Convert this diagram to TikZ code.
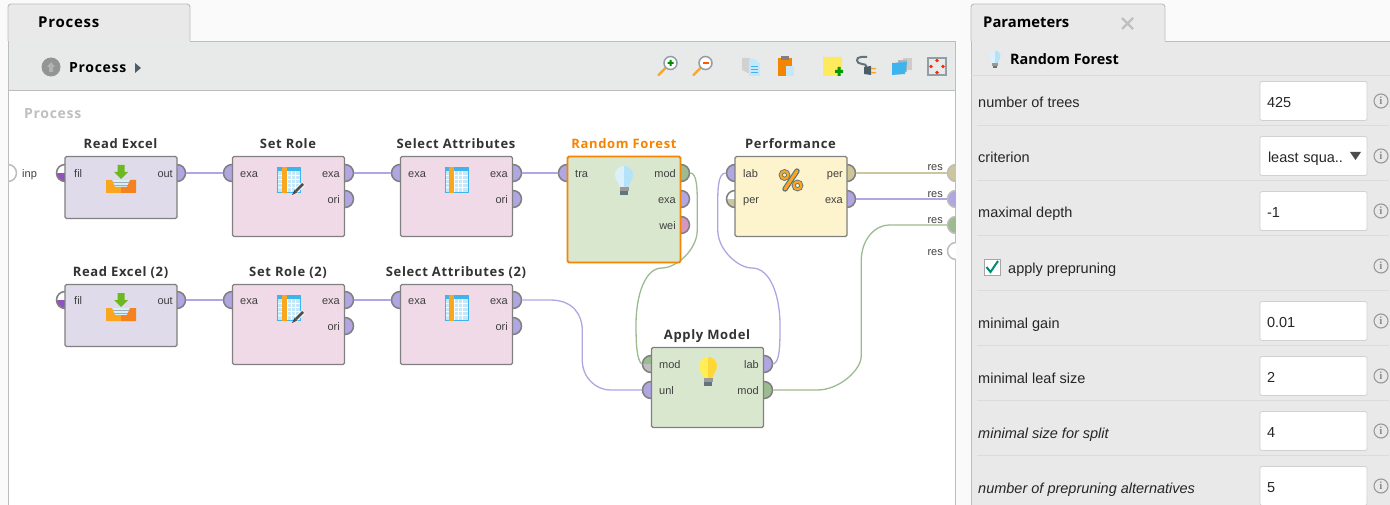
\documentclass[tikz,border=0pt]{standalone}
\usepackage{fontspec}
\setmainfont{Liberation Sans}
\newfontfamily\opfont{Open Sans}
\newfontfamily\opwide[LetterSpace=5]{Open Sans}
\newfontfamily\infofont{Liberation Serif}
\usetikzlibrary{calc}

\definecolor{pagebg}{HTML}{FAFAFA}
\definecolor{barbg}{HTML}{E8EAEA}
\definecolor{tabbg}{HTML}{E9E9E9}
\definecolor{edgegray}{HTML}{BDBDBD}
\definecolor{opedge}{HTML}{808080}
\definecolor{opread}{HTML}{DFDBEA}
\definecolor{oprole}{HTML}{F0DAE7}
\definecolor{opgreen}{HTML}{DAE7CF}
\definecolor{opyellow}{HTML}{FDF4CD}
\definecolor{pexa}{HTML}{B1A5E2}
\definecolor{pmod}{HTML}{9DBB90}
\definecolor{pper}{HTML}{CDC59B}
\definecolor{pwei}{HTML}{D596BF}
\definecolor{pfil}{HTML}{9450BC}
\definecolor{rforange}{HTML}{F58400}
\definecolor{iconblue}{HTML}{3DB4EE}
\definecolor{iconcell}{HTML}{C4E8FA}
\definecolor{iconorange}{HTML}{FBA61F}
\definecolor{icondeep}{HTML}{F58220}
\definecolor{icongreen}{HTML}{6DB81E}
\definecolor{iconslate}{HTML}{607480}
\definecolor{iconyellow}{HTML}{FFE95C}
\definecolor{bulbpale}{HTML}{DAF0FB}
\definecolor{bulbsky}{HTML}{B4E2F9}
\definecolor{bulblemon}{HTML}{FFEE58}
\definecolor{bulbgold}{HTML}{FFD835}

\tikzset{
	oplabel/.style={font=\opwide\bfseries\fontsize{13}{15}\selectfont,text=black!80,inner sep=0pt},
	opbox/.style={draw=opedge,line width=1.2pt,rounded corners=1.5pt,minimum width=112pt,inner sep=0pt},
	port/.style={circle,draw=opedge,line width=1.5pt,minimum size=17pt,inner sep=0pt},
	resport/.style={port,draw=edgegray},
	halfport/.style={port,path picture={\fill[#1] (path picture bounding box.west) rectangle (path picture bounding box.south east);}},
	portlabel/.style={font=\fontsize{11}{13}\selectfont,text=black!75,inner sep=0pt},
	wire/.style={line width=1.3pt,draw=#1},
	paramlabel/.style={font=\fontsize{14.5}{17}\selectfont,text=black!85,anchor=base west,inner sep=0pt},
	inputbox/.style={draw=black!18,fill=white,rounded corners=2pt,line width=.8pt,minimum height=39pt,text width=93pt,text height=14pt,text depth=.6pt,inner xsep=7pt,inner ysep=0pt,align=left,font=\fontsize{14.5}{17}\selectfont,text=black!85},
	infoicon/.style={circle,draw=black!40,line width=1.1pt,minimum size=14pt,inner sep=0pt,font=\infofont\bfseries\fontsize{11}{11}\selectfont,text=black!45},
	pics/bulb/.style 2 args={code={
		\fill[#1] (0,-14) .. controls (-5,-14) and (-9,-10) .. (-9,-5)
			.. controls (-9,0) and (-5,3) .. (-4.5,7) -- (0,7) -- cycle;
		\fill[#2] (0,-14) .. controls (5,-14) and (9,-10) .. (9,-5)
			.. controls (9,0) and (5,3) .. (4.5,7) -- (0,7) -- cycle;
		\fill[black!40] (-4.5,7) rectangle (4.5,11);
		\fill[iconslate] (-4,11) rectangle (4,15);
	}},
	pics/inbox/.style={code={
		\fill[icongreen] (-3.5,-22) -- (3.5,-22) -- (3.5,-15) -- (7,-15) -- (0,-8) -- (-7,-15) -- (-3.5,-15) -- cycle;
		\fill[iconcell!70!white] (-9,-7) rectangle (9,1);
		\foreach \ly in {-5,-2,1}
			\draw[iconslate!60,line width=.6pt] (-9,\ly) -- (9,\ly);
		\fill[iconorange] (-15,-7) -- (-9,-7) -- (-6,0) -- (0,0) -- (0,6) -- (-15,6) -- cycle;
		\fill[icondeep] (15,-7) -- (9,-7) -- (6,0) -- (0,0) -- (0,6) -- (15,6) -- cycle;
	}},
	pics/tablegrid/.style={code={
		\fill[iconblue] (-12,-13) rectangle (12,13);
		\fill[iconcell] (-11,-9) rectangle (11,12);
		\foreach \gx in {-2,2,6}
			\draw[white,line width=.9pt] (\gx,-9) -- (\gx,12);
		\foreach \gy in {-5,-1,3,7}
			\draw[white,line width=.9pt] (-11,\gy) -- (11,\gy);
		\fill[iconorange] (-7.5,-13) rectangle (-2.5,13);
	}},
	pics/pencil/.style={code={
		\draw[white,line width=4.4pt] (5,-5) -- (-3,3);
		\draw[black!70,line width=2.8pt] (5,-5) -- (-2,2);
		\fill[black!70] (-3.4,.6) -- (-.6,3.4) -- (-6,6) -- cycle;
	}},
	pics/zoomglass/.style={code={
		\draw[iconorange,line width=2.4pt,line cap=round] (-10,10) -- (-3,3);
		\draw[iconslate!70,fill=white,line width=1.5pt] (2,-2) circle (6.5);
	}}
}

\begin{document}
\begin{tikzpicture}[x=1pt,y=-1pt]
	\useasboundingbox (0,0) rectangle (1390,505);
	\fill[pagebg] (0,0) rectangle (1390,505);

	% process panel
	\draw[edgegray,fill=tabbg,line width=.9pt,rounded corners=3pt] (8,41) -- (8,4) -- (190,4) -- (190,41);
	\fill[white] (8,90) rectangle (955,505);
	\fill[barbg] (8,41) rectangle (955,90);
	\draw[edgegray,line width=.9pt] (190,41) -- (955,41);
	\draw[edgegray,line width=.9pt] (8,90) -- (955,90);
	\draw[edgegray,line width=.9pt] (8,41) -- (8,505);
	\draw[edgegray,line width=.9pt] (955,41) -- (955,505);
	\node[font=\opwide\bfseries\fontsize{15}{17}\selectfont,anchor=base west,inner sep=0pt] (processTab) at (38,28) {Process};
	\node[circle,fill=black!42,minimum size=19pt,inner sep=0pt] (upButton) at (51,67) {};
	\fill[black!30] (51,62) -- (55,67) -- (53,67) -- (53,72) -- (49,72) -- (49,67) -- (47,67) -- cycle;
	\node[font=\opwide\bfseries\fontsize{14}{17}\selectfont,anchor=base west,inner sep=0pt] (processBar) at (69,73) {Process};
	\fill[iconslate!80!black] (135,63) -- (141,68) -- (135,73) -- cycle;
	\node[font=\opwide\bfseries\fontsize{14}{16}\selectfont,text=black!25,anchor=base west,inner sep=0pt] (processName) at (24,119) {Process};

	% toolbar icons
	\pic at (668.5,65) {zoomglass};
	\fill[green!55!black] (667.5,62) rectangle (673.5,64) (669.5,60) rectangle (671.5,66);
	\pic at (703.5,65) {zoomglass};
	\fill[orange!70!red] (702.5,62) rectangle (708.5,64);
	\fill[black!18] (742,58) -- (750,58) -- (750,74) -- (742,70) -- cycle;
	\fill[iconcell] (749,59) -- (755,59) -- (760,64) -- (760,76) -- (749,76) -- cycle;
	\foreach \ly in {66,69,72}
		\draw[iconblue,line width=.7pt] (751,\ly) -- (758,\ly);
	\fill[rforange] (778,58) rectangle (792,76);
	\fill[black!50] (781,56) rectangle (789,60);
	\fill[iconcell] (786,66) rectangle (794,76);
	\fill[iconyellow] (823,57) -- (842,57) -- (842,70) -- (836,76) -- (823,76) -- cycle;
	\fill[green!60!black] (835,70) rectangle (843,73) (837.5,67) rectangle (840.5,76);
	\draw[iconslate,line width=2pt] (867,57) -- (861,57) .. controls (855,57) and (856,64) .. (862,64) .. controls (868,64) and (866,68) .. (866,70);
	\fill[iconslate!80!black] (864,67) -- (871,66) -- (871,75) -- (864,74) -- cycle;
	\fill[iconorange] (871,68) rectangle (876,69.5) (871,72) rectangle (876,73.5);
	\fill[black!20] (903,58) rectangle (912,70);
	\fill[black!30] (898,60) rectangle (907,72);
	\fill[iconblue] (892,63) -- (907,62) -- (905,74) -- (892,75) -- cycle;
	\draw[iconslate!70,line width=1.5pt] (928,58) rectangle (946,75);
	\foreach \dx/\dy in {0/-6,0/6,-6/0,6/0}
		\fill[red!70!orange] ($(937,66.5)+(\dx,\dy)$) circle (1.8);

	% ports go under the boxes
	\foreach \nm/\cx/\cy/\col in {
		rexOut/177/173/pexa, srIn/232/173/pexa, srOut/345/173/pexa, srOri/345/199/pexa,
		saIn/400/173/pexa, saOut/513/173/pexa, saOri/513/199/pexa,
		rfTra/567/173/pexa, rfMod/681/173/pmod, rfExa/681/199/pexa, rfWei/681/225/pwei,
		pfLab/735/173/pexa, pfPer/847/173/pper, pfExa/847/199/pexa,
		rexbOut/177/300/pexa, srbIn/232/300/pexa, srbOut/345/300/pexa, srbOri/345/326/pexa,
		sabIn/400/300/pexa, sabOut/513/300/pexa, sabOri/513/326/pexa,
		amUnl/651/390/pexa, amLab/764/364/pexa, amMod/764/390/pmod}
		\node[port,fill=\col] (\nm) at (\cx,\cy) {};
	\foreach \nm/\cx/\cy/\col/\low in {
		rexFil/65/173/white/pfil, rexbFil/65/300/white/pfil,
		pfIn/735/199/white/pper, amIn/651/364/pmod/black!25}
		\node[halfport=\low,fill=\col] (\nm) at (\cx,\cy) {};
	\node[resport,fill=white] (inpPort) at (8,173) {};
	\foreach \nm/\cy/\col in {resA/173/pper,resB/199/pexa,resC/225/pmod,resD/251/white}
		\node[resport,fill=\col] (\nm) at (956,\cy) {};

	% hide what sticks out of the panel
	\fill[pagebg] (0,160) rectangle (7.5,186);
	\fill[pagebg] (955.5,160) rectangle (971,262);
	\draw[edgegray,line width=.9pt] (8,160) -- (8,186);
	\draw[edgegray,line width=.9pt] (955,160) -- (955,164) (955,182) -- (955,190);

	% wires
	\draw[wire=pexa] (rexOut.east) -- (srIn.west);
	\draw[wire=pexa] (srOut.east) -- (saIn.west);
	\draw[wire=pexa] (saOut.east) -- (rfTra.west);
	\draw[wire=pexa] (rexbOut.east) -- (srbIn.west);
	\draw[wire=pexa] (srbOut.east) -- (sabIn.west);
	\draw[wire=pper] (pfPer.east) -- (resA.west);
	\draw[wire=pexa] (pfExa.east) -- (resB.west);
	\draw[wire=pexa] (sabOut.east) -- ++(28,0) .. controls +(22,0) and +(0,-16) .. ++(32,30)
		-- ++(0,30) .. controls +(0,18) and +(-14,0) .. ++(28,30) -- (amUnl.west);
	\draw[wire=pmod] (rfMod.east) .. controls +(7,0) and +(0,-15) .. ++(7,32)
		-- ++(0,25) .. controls +(0,20) and +(14,0) .. (662,268)
		.. controls (645,268) and (636,295) .. (636,325)
		.. controls (636,345) and (637,360) .. (amIn.west);
	\draw[wire=pexa] (pfLab.west) .. controls +(-8,0) and +(0,-15) .. ++(-8,32)
		-- ++(0,25) .. controls +(0,20) and +(-14,0) .. (752,268)
		.. controls (770,268) and (780,295) .. (780,325)
		.. controls (780,345) and (780,362) .. (amLab.east);
	\draw[wire=pmod] (amMod.east) -- ++(44,0) .. controls +(22,0) and +(0,14) .. ++(44,-34)
		-- ++(0,-95) .. controls +(0,-22) and +(-14,0) .. ++(28,-36) -- (resC.west);

	% operators
	\foreach \nm/\cx/\cy/\hh/\col/\ttl in {
		rex/121/187.5/62/opread/Read Excel, sr/288.5/196.5/80/oprole/Set Role,
		sa/456.5/196.5/80/oprole/Select Attributes, pf/791/196.5/80/opyellow/Performance,
		rexb/121/315.5/62/opread/Read Excel (2), srb/288.5/324.5/80/oprole/Set Role (2),
		sab/456.5/324.5/80/oprole/Select Attributes (2), am/707.5/387.5/80/opgreen/Apply Model}
	{
		\node[opbox,fill=\col,minimum height=\hh pt] (\nm) at (\cx,\cy) {};
		\node[oplabel,anchor=base] (\nm Title) at ($(\nm.north)+(-.5,-7)$) {\ttl};
	}
	\node[opbox,fill=opgreen,draw=rforange,line width=1.8pt,minimum width=113pt,minimum height=106pt] (rf) at (624,209.5) {};
	\node[oplabel,anchor=base,text=rforange] (rfTitle) at ($(rf.north)+(0,-7)$) {Random Forest};

	% port names
	\foreach \nm/\cx/\cy/\txt in {
		rexFil/74/173/fil, srIn/240/173/exa, saIn/408/173/exa, rfTra/575/173/tra,
		pfLab/743/173/lab, pfIn/743/199/per, rexbFil/74/300/fil, srbIn/240/300/exa,
		sabIn/408/300/exa, amIn/659/364/mod, amUnl/659/390/unl, inpPort/22/173/inp}
		\node[portlabel,anchor=base west] (\nm Name) at (\cx,\cy+4.5) {\txt};
	\foreach \nm/\cx/\cy/\txt in {
		rexOut/173/173/out, srOut/340/173/exa, srOri/340/199/ori, saOut/508/173/exa,
		saOri/508/199/ori, rfMod/676/173/mod, rfExa/676/199/exa, rfWei/676/225/wei,
		pfPer/843/173/per, pfExa/843/199/exa, rexbOut/173/300/out, srbOut/340/300/exa,
		srbOri/340/326/ori, sabOut/508/300/exa, sabOri/508/326/ori, amLab/759/364/lab,
		amMod/759/390/mod, resA/943/166/res, resB/943/193/res, resC/943/219/res, resD/943/251/res}
		\node[portlabel,anchor=base east] (\nm Name) at (\cx,\cy+4.5) {\txt};

	% operator icons
	\foreach \cy in {187,315}
		\pic at (121,\cy) {inbox};
	\foreach \cx/\cy in {289/180,456.5/180,289/308,456.5/308}
		\pic at (\cx,\cy) {tablegrid};
	\foreach \cy in {189,317}
		\pic at (298,\cy) {pencil};
	\pic at (624,180) {bulb={bulbpale}{bulbsky}};
	\pic at (708,371) {bulb={bulblemon}{bulbgold}};
	\draw[iconslate,line width=5.4pt,line cap=round] (797,171) -- (785,189);
	\draw[iconslate,line width=4pt] (784.5,175) circle (3.8) (797.5,185.5) circle (3.8);
	\draw[iconorange,line width=3pt,line cap=round] (797,171) -- (785,189);
	\draw[iconorange,line width=2.2pt] (784.5,175) circle (3.8) (797.5,185.5) circle (3.8);

	% parameters panel
	\draw[edgegray,fill=tabbg,line width=.9pt,rounded corners=3pt] (971,41) -- (971,4) -- (1165,4) -- (1165,41);
	\fill[tabbg] (971,41) rectangle (1390,505);
	\draw[edgegray,line width=.9pt] (1165,41) -- (1390,41);
	\draw[edgegray,line width=.9pt] (971,41) -- (971,505);
	\node[font=\opfont\bfseries\fontsize{14.8}{17}\selectfont,anchor=base west,inner sep=0pt] (paramTab) at (983,28) {Parameters};
	\draw[black!25,line width=2.4pt] (1122,18) -- (1133,29) (1133,18) -- (1122,29);
	\pic[scale=.62] at (995,59) {bulb={bulbpale}{bulbsky}};
	\node[font=\opfont\bfseries\fontsize{14.4}{17}\selectfont,anchor=base west,inner sep=0pt] (paramOp) at (1010,65) {Random Forest};
	\draw[black!14,line width=.9pt] (971,75) -- (1390,75);
	\foreach \ly in {125,180,235,290,345,400,455}
		\draw[black!14,line width=.9pt] (977,\ly) -- (1389,\ly);
	\foreach \nm/\cy/\txt in {
		pTrees/108/number of trees, pCrit/163/criterion, pDepth/218/maximal depth,
		pGain/328/minimal gain, pLeaf/383/minimal leaf size,
		pSplit/438/\textit{minimal size for split}, pAlt/493/\textit{number of prepruning alternatives}}
		\node[paramlabel] (\nm) at (978,\cy) {\txt};
	\foreach \nm/\cy/\txt in {
		vTrees/101/425, vDepth/211/-1, vGain/321/0.01, vLeaf/376/2, vSplit/431/4, vAlt/486/5}
		\node[inputbox] (\nm) at (1313.5,\cy) {\txt};
	\node[inputbox,text width=96pt,inner xsep=5.5pt] (vCrit) at (1313.5,156) {\hspace{2.5pt}least squa..};
	\fill[black!70] (1350,152) -- (1361,152) -- (1355.5,160) -- cycle;
	\foreach \cy in {101,156,211,266,321,376,431,486}
		\node[infoicon] (info\cy) at (1381,\cy) {i};
	\node[draw=black!35,fill=white,minimum size=16pt,inner sep=0pt] (pruneBox) at (992,267) {};
	\draw[teal!90!green,line width=2pt] (986.5,267) -- (990.5,272) -- (998,261);
	\node[paramlabel] (pPrune) at (1008,273) {apply prepruning};
\end{tikzpicture}
\end{document}
